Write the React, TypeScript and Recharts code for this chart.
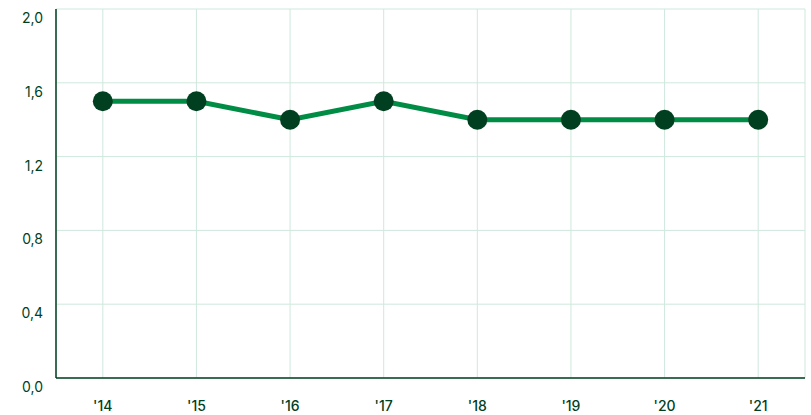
import { LineChart, Line, XAxis, YAxis, CartesianGrid } from 'recharts';

const years = ["'14", "'15", "'16", "'17", "'18", "'19", "'20", "'21"];
const values = [1.5, 1.5, 1.4, 1.5, 1.4, 1.4, 1.4, 1.4];
const yTicks = [0, 0.4, 0.8, 1.2, 1.6, 2.0];

const data = years.map((year, i) => ({ year, value: values[i] }));

const dark = '#003f1f';
const gridColor = '#cfe8dd';

export default function App() {
    // comma decimal separator
    const fmt = (v: number) => v.toFixed(1).replace('.', ',');

    return (
        <div style={{ position: 'absolute', left: 0, top: 0, background: '#fff' }}>
            <LineChart
                width={811}
                height={415}
                data={data}
                margin={{ top: 9, right: 6, left: 0, bottom: 0 }}
                style={{ fontFamily: 'Inter, sans-serif' }}
            >
                <CartesianGrid stroke={gridColor} strokeWidth={1} />
                <XAxis
                    dataKey="year"
                    scale="band"
                    height={37}
                    stroke={dark}
                    strokeWidth={1.5}
                    tickLine={false}
                    tickSize={0}
                    tickMargin={23}
                    tick={{ fill: dark, fontSize: 14, fontWeight: 500 }}
                />
                <YAxis
                    domain={[0, 2]}
                    ticks={yTicks}
                    width={56}
                    stroke={dark}
                    strokeWidth={1.5}
                    tickLine={false}
                    tickSize={0}
                    tickMargin={13}
                    tickFormatter={fmt}
                    tick={{ fill: dark, fontSize: 14, dy: 9 }}
                />
                <Line
                    type="linear"
                    dataKey="value"
                    stroke="#008c45"
                    strokeWidth={5}
                    dot={{ r: 10, fill: dark, stroke: dark, strokeWidth: 0 }}
                    isAnimationActive={false}
                />
            </LineChart>
        </div>
    );
}
